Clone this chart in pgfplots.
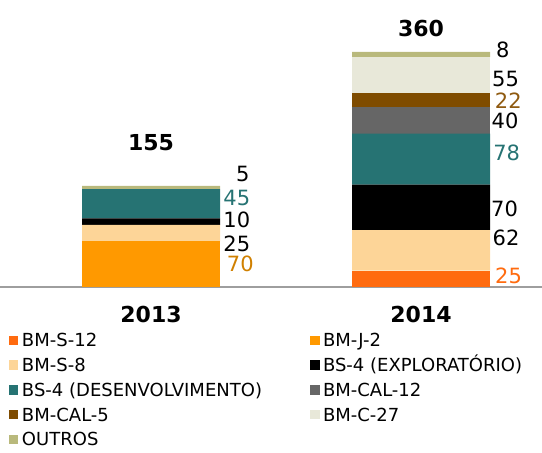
\documentclass[border=0pt]{standalone}
\usepackage{fontspec}
\setmainfont{DejaVu Sans}
\usepackage{pgfplots}
\pgfplotsset{compat=1.18}
\definecolor{cSdoze}{HTML}{FF6B0F}
\definecolor{cJ}{HTML}{FF9900}
\definecolor{cSoito}{HTML}{FDD598}
\definecolor{cExp}{HTML}{000000}
\definecolor{cDes}{HTML}{267373}
\definecolor{cCaldoze}{HTML}{666666}
\definecolor{cCalcinco}{HTML}{7F4C00}
\definecolor{cC}{HTML}{E8E8D9}
\definecolor{cOut}{HTML}{B9B97C}
\definecolor{lOr}{HTML}{D08000}
\definecolor{lBr}{HTML}{8F5A10}
\newcommand\lab{\fontsize{21}{25}\selectfont}
\newcommand\tot{\fontsize{22}{26}\selectfont\bfseries}
\pgfplotsset{sqleg/.style={legend image code/.code={\path[##1,draw=none] (0pt,-4.75pt) rectangle (9.5pt,4.75pt);}}}
\begin{document}
\begin{tikzpicture}
\begin{axis}[
  scale only axis, width=542pt, height=287pt,
  xmin=-0.559259, xmax=1.448148, ymin=0, ymax=439.65,
  axis lines=none, clip=false,
  ybar stacked, bar width=138pt,
  legend columns=2, legend cell align=left,
  legend style={at={(axis description cs:0.016605,-0.1630)}, anchor=north west,
    draw=none, fill=none, inner sep=0pt, outer sep=0pt,
    column sep=3.5pt, row sep=11.8pt,
    font=\fontsize{18}{21.6}\selectfont,
    nodes={inner sep=0pt, text height=13pt, text depth=0pt},
    /tikz/every even column/.append style={column sep=0pt}},
]
\addplot[sqleg, fill=cSdoze, draw=none] coordinates {(0,0) (1,25)};
\addplot[sqleg, fill=cJ, draw=none] coordinates {(0,70) (1,0)};
\addplot[sqleg, fill=cSoito, draw=none] coordinates {(0,25) (1,62)};
\addplot[sqleg, fill=cExp, draw=none] coordinates {(0,10) (1,70)};
\addplot[sqleg, fill=cDes, draw=none] coordinates {(0,45) (1,78)};
\addplot[sqleg, fill=cCaldoze, draw=none] coordinates {(0,0) (1,40)};
\addplot[sqleg, fill=cCalcinco, draw=none] coordinates {(0,0) (1,22)};
\addplot[sqleg, fill=cC, draw=none] coordinates {(0,0) (1,55)};
\addplot[sqleg, fill=cOut, draw=none] coordinates {(0,5) (1,8)};
\legend{\makebox[288pt][l]{BM-S-12}, BM-J-2, \makebox[288pt][l]{BM-S-8}, BS-4 (EXPLORATÓRIO), \makebox[288pt][l]{BS-4 (DESENVOLVIMENTO)}, BM-CAL-12, \makebox[288pt][l]{BM-CAL-5}, BM-C-27, \makebox[288pt][l]{OUTROS}}
% baseline
\draw[color=black!38, line width=1.6pt] (rel axis cs:0,0) -- (rel axis cs:1,0);
% value labels 2013
\node[font=\lab] at (axis cs:0.3396,173.1) {5};
\node[font=\lab, text=cDes] at (axis cs:0.3178,136.3) {45};
\node[font=\lab] at (axis cs:0.3178,103.1) {10};
\node[font=\lab] at (axis cs:0.3178,65.9) {25};
\node[font=\lab, text=lOr] at (axis cs:0.3307,35.7) {70};
% value labels 2014
\node[font=\lab] at (axis cs:1.3030,363.1) {8};
\node[font=\lab] at (axis cs:1.3130,317.9) {55};
\node[font=\lab, text=lBr] at (axis cs:1.3233,284.9) {22};
\node[font=\lab] at (axis cs:1.3111,254.3) {40};
\node[font=\lab, text=cDes] at (axis cs:1.3174,205.3) {78};
\node[font=\lab] at (axis cs:1.3093,119.5) {70};
\node[font=\lab] at (axis cs:1.3148,75.8) {62};
\node[font=\lab, text=cSdoze] at (axis cs:1.3241,16.9) {25};
% totals
\node[font=\tot] at (axis cs:0,220.9) {155};
\node[font=\tot] at (axis cs:1,396.3) {360};
% years
\node[font=\tot] at (axis cs:0,-42.6) {2013};
\node[font=\tot] at (axis cs:1,-42.6) {2014};
\end{axis}
\pgfresetboundingbox
\path[use as bounding box] (current axis.south west) ++(0,-165pt) rectangle (current axis.north east);
\end{tikzpicture}
\end{document}
